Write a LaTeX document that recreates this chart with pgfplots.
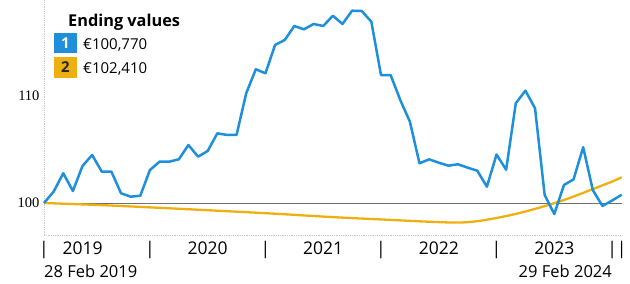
\documentclass[border=0pt]{standalone}
\usepackage{pgfplots}
\pgfplotsset{compat=1.18}
\usepackage{fontspec}
\setmainfont{Open Sans}
\newfontfamily\numserif{Liberation Serif}
\definecolor{lineblue}{HTML}{1E8FDB}
\definecolor{lineorange}{HTML}{EEB010}
\definecolor{zerogray}{HTML}{707070}
\definecolor{dotgray}{HTML}{C8C8C8}
\begin{document}
\begin{tikzpicture}[x=1pt,y=1pt]
\useasboundingbox (0,0) rectangle (630,284);
\begin{axis}[
  at={(44pt,49pt)}, anchor=south west,
  scale only axis, width=577.7pt, height=235pt,
  xmin=0, xmax=60, ymin=97.01, ymax=118.97,
  axis x line*=bottom, axis y line*=left,
  axis line style={dotgray, densely dotted, line width=0.8pt},
  clip=false,
  major tick length=0pt,
  ytick={100,110}, yticklabels={100,110},
  yticklabel style={font=\numserif\fontsize{14.5}{16}\selectfont, xshift=-1pt},
  xtick={4,17,29,41,53},
  xticklabels={2019,2020,2021,2022,2023},
  extra x ticks={0,11,23,35,47,59,60},
  extra x tick labels={|,|,|,|,|,|,|},
  extra x tick style={tick label style={font=\fontsize{17}{20}\selectfont}},
  xticklabel style={font=\fontsize{17.5}{20}\selectfont, anchor=base, yshift=-19.5pt},
  /pgf/number format/assume math mode=true,
]
\addplot[zerogray, line width=0.9pt] coordinates {(0,100) (60,100)};
\addplot[lineorange, line width=2.3pt, smooth] coordinates {
(0,100.0) (6,99.8) (12,99.55) (18,99.28) (24,99.0) (30,98.68) (36,98.42)
(40,98.25) (43,98.17) (45,98.3) (47,98.6) (49,98.98) (51,99.45) (53,99.98)
(55,100.6) (57,101.3) (59,102.0) (60,102.41)};
\addplot[lineblue, line width=2.5pt, line join=round] coordinates {
(0,100.0) (1,101.06) (2,102.78) (3,101.12) (4,103.46) (5,104.49) (6,102.93)
(7,102.93) (8,100.91) (9,100.59) (10,100.68) (11,103.08) (12,103.86) (13,103.86)
(14,104.08) (15,105.42) (16,104.33) (17,104.86) (18,106.51) (19,106.36) (20,106.36)
(21,110.25) (22,112.50) (23,112.12) (24,114.77) (25,115.23) (26,116.54) (27,116.23)
(28,116.73) (29,116.54) (30,117.50) (31,116.73) (32,117.97) (33,117.94) (34,116.94)
(35,111.96) (36,111.96) (37,109.63) (38,107.60) (39,103.71) (40,104.08) (41,103.77)
(42,103.49) (43,103.62) (44,103.30) (45,103.02) (46,101.52) (47,104.53) (48,103.11)
(49,109.32) (50,110.50) (51,108.85) (52,100.75) (53,98.97) (54,101.68) (55,102.21)
(56,105.21) (57,101.21) (58,99.72) (59,100.23) (60,100.77)};
\end{axis}
% date labels
\node[anchor=base west, inner sep=0pt, font=\fontsize{16.5}{20}\selectfont] at (44,6.3) {28 Feb 2019};
\node[anchor=base east, inner sep=0pt, font=\fontsize{16.5}{20}\selectfont] at (612,6.3) {29 Feb 2024};
% legend
\node[anchor=base west, inner sep=0pt, font=\fontsize{16.3}{20}\selectfont\bfseries] at (68,257.3) {Ending values};
\fill[lineblue] (54,231) rectangle (77,251);
\node[text=white, font=\fontsize{15}{17}\selectfont\bfseries, inner sep=0pt] at (65.5,241) {1};
\node[anchor=base west, inner sep=0pt, font=\fontsize{15}{20}\selectfont] at (83,234) {€100,770};
\fill[lineorange] (54,206) rectangle (77,227);
\node[text=black!85, font=\fontsize{15}{17}\selectfont\bfseries, inner sep=0pt] at (65.5,216.5) {2};
\node[anchor=base west, inner sep=0pt, font=\fontsize{15}{20}\selectfont] at (83,210.7) {€102,410};
\end{tikzpicture}
\end{document}
